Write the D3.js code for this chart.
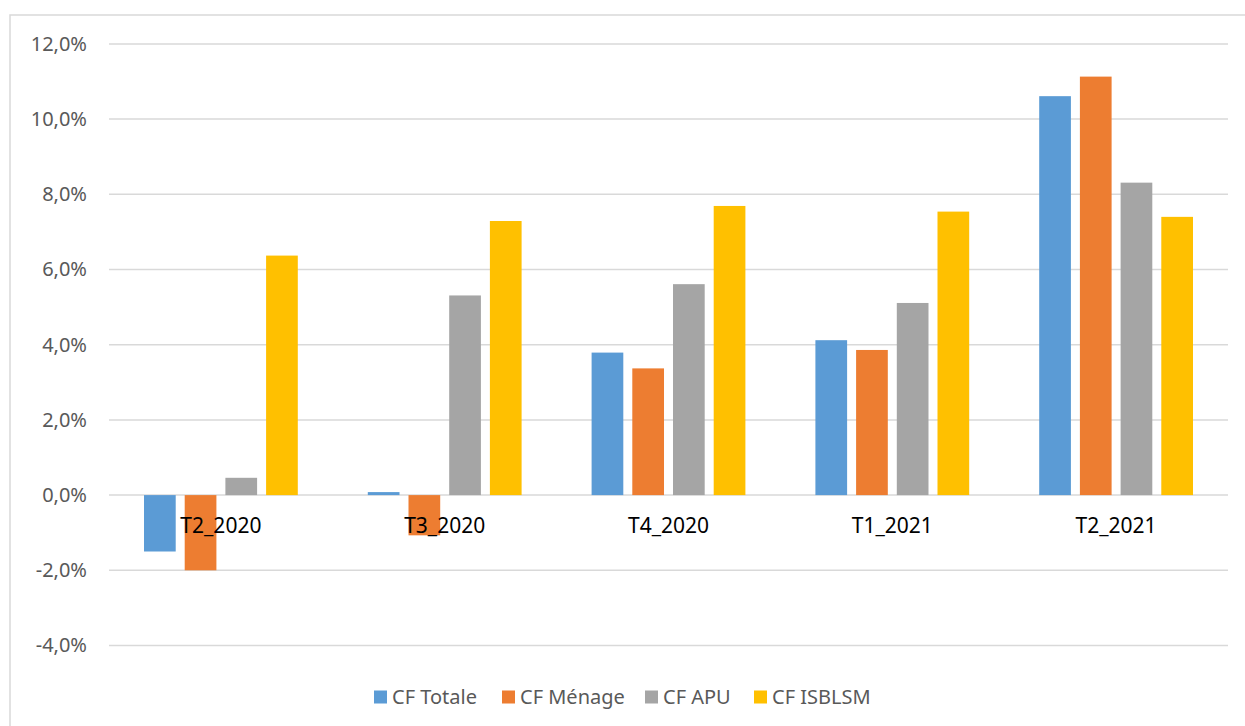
<!DOCTYPE html>
<html lang="fr">
<head>
  <meta charset="UTF-8">
  <title>CF par trimestre</title>
  <style>
    body { margin: 0; background: #fff; }
    svg text { font-family: "Noto Sans", "Open Sans", sans-serif; }
    .grid line { stroke: #d9d9d9; stroke-width: 1.5px; }
  </style>
</head>
<body>
  <svg id="chart" width="1245" height="726"></svg>

  <script src="https://d3js.org/d3.v7.min.js"></script>
  <script>
    // Data (in %)
    const categories = ['T2_2020', 'T3_2020', 'T4_2020', 'T1_2021', 'T2_2021'];
    const seriesNames = ['CF Totale', 'CF Ménage', 'CF APU', 'CF ISBLSM'];
    const cfTotale = [-1.5, 0.08, 3.79, 4.12, 10.61];
    const cfMenage = [-2.0, -1.07, 3.37, 3.86, 11.13];
    const cfApu = [0.46, 5.31, 5.61, 5.11, 8.31];
    const cfIsblsm = [6.37, 7.29, 7.69, 7.54, 7.40];
    const yTicks = [-4, -2, 0, 2, 4, 6, 8, 10, 12];
    const colors = ['#5b9bd5', '#ed7d31', '#a5a5a5', '#ffc000'];

    const seriesValues = [cfTotale, cfMenage, cfApu, cfIsblsm];
    const rows = [];
    categories.forEach((cat, i) => {
      seriesNames.forEach((s, j) => rows.push({ cat: cat, series: s, value: seriesValues[j][i] }));
    });

    const svg = d3.select('#chart');

    // outer chart frame (cropped at right/bottom)
    svg.append('rect')
      .attr('x', 10).attr('y', 15)
      .attr('width', 1260).attr('height', 740)
      .attr('fill', 'none')
      .attr('stroke', '#d9d9d9')
      .attr('stroke-width', 1.5);

    const left = 109, right = 1228;
    const y = d3.scaleLinear().domain([-4, 12]).range([645.5, 43.9]);
    const x = d3.scaleBand().domain(categories).range([left, right])
      .paddingInner(0.3128).paddingOuter(0.1564);
    const xs = d3.scaleBand().domain(seriesNames).range([0, x.bandwidth()])
      .paddingInner(0.221).paddingOuter(0);

    // gridlines
    svg.append('g')
      .attr('class', 'grid')
      .selectAll('line')
      .data(yTicks)
      .enter().append('line')
      .attr('x1', left).attr('x2', right)
      .attr('y1', d => y(d)).attr('y2', d => y(d));

    // y axis labels
    const fmt = v => d3.format('.1f')(v).replace('.', ',').replace('−', '-') + '%';
    const yAxis = d3.axisLeft(y).tickValues(yTicks).tickSize(0).tickPadding(22).tickFormat(fmt);
    svg.append('g')
      .attr('transform', `translate(${left},0)`)
      .call(yAxis)
      .call(g => g.select('.domain').remove())
      .selectAll('text')
      .attr('font-size', 20)
      .attr('fill', '#595959')
      .style('font-family', '"Noto Sans", sans-serif');

    // bars
    svg.append('g')
      .selectAll('rect')
      .data(rows)
      .enter().append('rect')
      .attr('x', d => x(d.cat) + xs(d.series))
      .attr('width', xs.bandwidth())
      .attr('y', d => y(Math.max(0, d.value)))
      .attr('height', d => Math.abs(y(d.value) - y(0)))
      .attr('fill', d => colors[seriesNames.indexOf(d.series)]);

    // category labels (next to the zero line)
    svg.append('g')
      .selectAll('text')
      .data(categories)
      .enter().append('text')
      .attr('x', d => x(d) + x.bandwidth() / 2)
      .attr('y', y(0) + 38)
      .attr('text-anchor', 'middle')
      .attr('font-size', 21)
      .attr('fill', '#000')
      .text(d => d);

    // legend
    const legendX = [374, 502, 645, 754];
    const legend = svg.append('g')
      .selectAll('g')
      .data(seriesNames)
      .enter().append('g')
      .attr('transform', (d, i) => `translate(${legendX[i]},697)`);
    legend.append('rect')
      .attr('x', 0).attr('y', -6.5)
      .attr('width', 13).attr('height', 13)
      .attr('fill', (d, i) => colors[i]);
    legend.append('text')
      .attr('x', 18).attr('y', 7)
      .attr('font-size', 20)
      .attr('fill', '#595959')
      .text(d => d);
  </script>
</body>
</html>
